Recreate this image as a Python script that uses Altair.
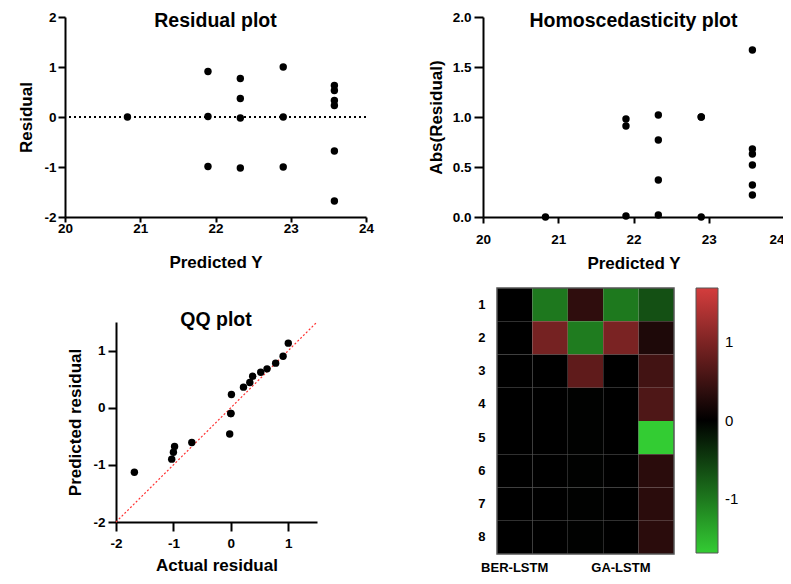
import altair as alt
import pandas as pd

FONT = "Liberation Sans"

# ---------------- data ----------------
pred_y = [20.83, 21.9, 21.9, 21.9, 22.33, 22.33, 22.33, 22.33,
          22.9, 22.9, 22.9, 23.58, 23.58, 23.58, 23.58, 23.58, 23.58]
residual = [0.0, 0.91, 0.01, -0.99, 0.77, 0.37, -0.02, -1.02,
            1.0, 0.0, -1.0, 0.63, 0.53, 0.33, 0.23, -0.68, -1.68]
abs_residual = [0.0, 0.91, 0.01, 0.98, 0.77, 0.37, 0.02, 1.02,
                1.0, 0.0, 1.0, 0.63, 0.52, 0.32, 0.22, 0.68, 1.67]

qq_actual = [-1.68, -1.03, -1.0, -0.98, -0.68, -0.02, 0.0, 0.0, 0.01,
             0.22, 0.33, 0.38, 0.52, 0.63, 0.78, 0.91, 1.0]
qq_predicted = [-1.13, -0.90, -0.78, -0.68, -0.61, -0.46, -0.10, -0.10, 0.23,
                0.36, 0.44, 0.55, 0.62, 0.68, 0.78, 0.90, 1.13]
identity_line = [-2.0, 1.5]

heat_rows = [1, 2, 3, 4, 5, 6, 7, 8]
heat_cols = [1, 2, 3, 4, 5]
heat_col_labels = ["BER-LSTM", "", "", "GA-LSTM", ""]
heat_values = {
    1: [0.0, 0.0, 0.0, 0.0, 0.0, 0.0, 0.0, 0.0],
    2: [-0.99, 0.93, 0.0, 0.0, 0.0, 0.0, 0.0, 0.0],
    3: [0.37, -1.02, 0.75, -0.02, -0.02, -0.02, -0.02, -0.02],
    4: [-1.0, 0.97, 0.0, 0.0, 0.0, 0.0, 0.0, 0.0],
    5: [-0.66, 0.24, 0.52, 0.62, -1.68, 0.33, 0.33, 0.33],
}
colorbar_ticks = [-1, 0, 1]
color_limit = 1.68

# ---------------- tables ----------------
df_res = pd.DataFrame({"pred": pred_y, "res": residual, "absres": abs_residual})
df_qq = pd.DataFrame({"actual": qq_actual, "predicted": qq_predicted})
df_line = pd.DataFrame({"x": identity_line, "y": identity_line})
df_zero = pd.DataFrame({"z": [0.0]})
df_ticks = pd.DataFrame({"t": colorbar_ticks})
df_heat = pd.DataFrame(
    [{"col": c, "row": r, "value": heat_values[c][i]}
     for c in heat_cols for i, r in enumerate(heat_rows)]
)

INT_LABEL = "'' + datum.value"


def ax(title, tick, pad, tpad, **kw):
    base = dict(
        domainColor="black", domainWidth=2, tickColor="black", tickWidth=2,
        tickSize=tick, labelFont=FONT, labelFontSize=13.5, labelFontWeight="bold",
        labelColor="black", labelPadding=pad, labelFlush=False,
        titleFont=FONT, titleFontSize=17, titleFontWeight="bold",
        titleColor="black", titlePadding=tpad, grid=False, title=title,
    )
    base.update(kw)
    return alt.Axis(**base)


def title(text, offset, dx=0):
    return alt.TitleParams(text, font=FONT, fontSize=19.5, fontWeight="bold",
                           color="black", anchor="middle", frame="group",
                           offset=offset, dx=dx)


# ---------------- residual plot ----------------
p1_pts = alt.Chart(df_res).mark_circle(size=55, color="black", opacity=1).encode(
    x=alt.X("pred:Q", scale=alt.Scale(domain=[20, 24], nice=False, zero=False),
            axis=ax("Predicted Y", 5, -1, 20, values=[20, 21, 22, 23, 24],
                    labelExpr=INT_LABEL)),
    y=alt.Y("res:Q", scale=alt.Scale(domain=[-2, 2], nice=False),
            axis=ax("Residual", 7, 2, 8, values=[-2, -1, 0, 1, 2],
                    labelExpr=INT_LABEL)),
)
p1_zero = alt.Chart(df_zero).mark_rule(color="black", strokeWidth=2,
                                       strokeDash=[2, 3]).encode(y="z:Q")
p1 = alt.layer(p1_zero, p1_pts).properties(
    width=301, height=200, title=title("Residual plot", -21))

# ---------------- homoscedasticity plot ----------------
p2 = alt.Chart(df_res).mark_circle(size=55, color="black", opacity=1).encode(
    x=alt.X("pred:Q", scale=alt.Scale(domain=[20, 24], nice=False, zero=False),
            axis=ax("Predicted Y", 6, 9, 10, values=[20, 21, 22, 23, 24],
                    labelExpr=INT_LABEL,
                    labelAlign={"condition": {"test": "datum.value == 24",
                                              "value": "right"},
                                "value": "center"})),
    y=alt.Y("absres:Q", scale=alt.Scale(domain=[0, 2], nice=False),
            axis=ax("Abs(Residual)", 9, 3, 7, values=[0, 0.5, 1, 1.5, 2],
                    format=".1f")),
).properties(width=301, height=200, title=title("Homoscedasticity plot", -21))

# ---------------- QQ plot (view offset inside its grid cell) ----------------
qq_x_scale = alt.Scale(domain=[-2, 1.5], nice=False, range=[51, 252])
qq_y_scale = alt.Scale(domain=[-2, 1.5], nice=False, range=[234, 34])
p3_line = alt.Chart(df_line).mark_line(color="#ff3030", strokeWidth=1.2,
                                       strokeDash=[2, 2]).encode(
    x=alt.X("x:Q", scale=qq_x_scale), y=alt.Y("y:Q", scale=qq_y_scale))
p3_pts = alt.Chart(df_qq).mark_circle(size=55, color="black", opacity=1).encode(
    x=alt.X("actual:Q", scale=qq_x_scale,
            axis=ax("Actual residual", 9, 5, 8, values=[-2, -1, 0, 1],
                    labelExpr=INT_LABEL)),
    y=alt.Y("predicted:Q", scale=qq_y_scale,
            axis=ax("Predicted residual", 8, 3, 8, values=[-2, -1, 0, 1],
                    labelExpr=INT_LABEL, offset=-51)),
)
p3 = alt.layer(p3_line, p3_pts).properties(
    width=252, height=234, title=title("QQ plot", -42, dx=25))

# ---------------- heat map ----------------
HX = 14  # left inset of the heat map inside its grid cell
label_js = "[" + ",".join('"%s"' % s for s in heat_col_labels) + "]"
p4_cells = alt.Chart(df_heat).mark_rect(strokeWidth=0).encode(
    x=alt.X("col:O", scale=alt.Scale(paddingInner=0, paddingOuter=0,
                                     range=[HX, HX + 177]),
            axis=alt.Axis(labelExpr=label_js + "[datum.value - 1]", labelAngle=0,
                          ticks=False, domain=False, title=None, labelFont=FONT,
                          labelFontSize=13, labelFontWeight="bold",
                          labelColor="black", labelPadding=7)),
    y=alt.Y("row:O", scale=alt.Scale(paddingInner=0, paddingOuter=0),
            axis=alt.Axis(ticks=False, domain=False, title=None, labelFont=FONT,
                          labelFontSize=13, labelFontWeight="bold", offset=-HX,
                          labelColor="black", labelPadding=12)),
    color=alt.Color("value:Q",
                    scale=alt.Scale(domain=[-color_limit, 0, color_limit],
                                    range=["#33cc33", "#000000", "#d43d3d"],
                                    interpolate="rgb"),
                    legend=alt.Legend(orient="none", legendX=631, legendY=271,
                                      direction="vertical", gradientLength=265,
                                      gradientThickness=22, title=None,
                                      values=colorbar_ticks, labelFont=FONT,
                                      labelFontSize=15, labelColor="black",
                                      labelOffset=7, labelOverlap=False,
                                      labelExpr=INT_LABEL,
                                      gradientStrokeColor="#555555",
                                      gradientStrokeWidth=1)),
)
p4_frame = alt.Chart(df_zero).mark_rect(fill=None, stroke="#555555", strokeWidth=1.5).encode(
    x=alt.value(HX), x2=alt.value(HX + 177), y=alt.value(0), y2=alt.value(266))
tick_scale = alt.Scale(domain=[-color_limit, color_limit], range=[265, 0], nice=False)
p4_ticks_l = alt.Chart(df_ticks).mark_rule(color="black", strokeWidth=2).encode(
    y=alt.Y("t:Q", scale=tick_scale, axis=None), x=alt.value(HX + 199),
    x2=alt.value(HX + 204))
p4_ticks_r = alt.Chart(df_ticks).mark_rule(color="black", strokeWidth=2).encode(
    y=alt.Y("t:Q", scale=tick_scale, axis=None), x=alt.value(HX + 216),
    x2=alt.value(HX + 221))
p4 = alt.layer(p4_cells, p4_frame, p4_ticks_l, p4_ticks_r).resolve_scale(
    y="independent").properties(width=HX + 177, height=266)

chart = alt.concat(
    p1, p2, p3, p4, columns=2, bounds="flush",
    spacing={"row": 71, "column": 117},
).properties(
    padding={"left": 9, "top": 2, "right": -2, "bottom": 0},
    background="white",
).configure_view(stroke=None)

chart.save("out.html", embed_options={"renderer": "svg", "actions": False})
